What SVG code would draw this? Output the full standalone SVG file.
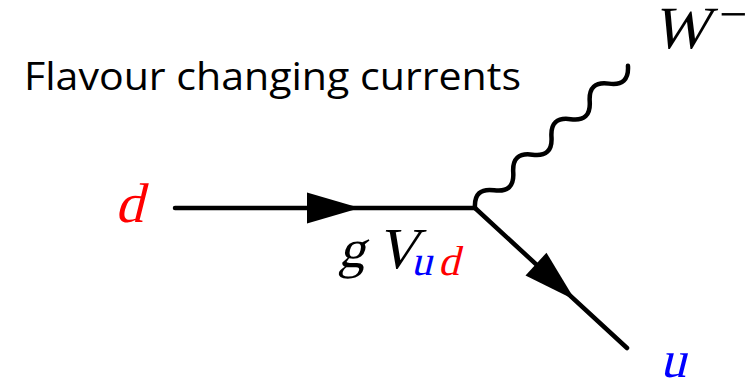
<svg xmlns="http://www.w3.org/2000/svg" xmlns:xlink="http://www.w3.org/1999/xlink" width="749" height="384" viewBox="0 0 749 384">
<style>
.line{stroke:#000;stroke-width:4.5;fill:none;stroke-linecap:round;stroke-linejoin:round}
.title{font-family:"Open Sans","Liberation Sans",sans-serif;font-size:39px;fill:#000}
.math{font-family:"Liberation Serif","Times New Roman",serif;font-style:normal}
.red{fill:#ff0000}
.blue{fill:#0000ff}
</style>
<defs>
<polygon id="arrowhead" points="0,0 -53,-15.5 -53,15.5" fill="#000"/>
</defs>
<rect width="749" height="384" fill="#fff"/>
<g id="title">
<text class="title" x="24" y="90" textLength="497" lengthAdjust="spacingAndGlyphs">Flavour changing currents</text>
</g>
<g id="connectors">
<g id="fermion-in">
<line class="line" x1="175" y1="208" x2="475" y2="208"/>
<use xlink:href="#arrowhead" transform="translate(360,208)"/>
</g>
<g id="fermion-out">
<line class="line" x1="475" y1="208" x2="627" y2="348"/>
<use xlink:href="#arrowhead" transform="translate(575,300) rotate(42.6)"/>
</g>
<g id="boson">
<path class="line" transform="translate(475,208) rotate(-42.9)" d="M0,0 c8.7,-10.7 17.4,-10.7 26.1,0 c8.7,10.7 17.4,10.7 26.1,0 c8.7,-10.7 17.4,-10.7 26.1,0 c8.7,10.7 17.4,10.7 26.1,0 c8.7,-10.7 17.4,-10.7 26.1,0 c8.7,10.7 17.4,10.7 26.1,0 c8.7,-10.7 17.4,-10.7 26.1,0 c8.7,10.7 17.4,10.7 26.1,0"/>
</g>
</g>
<g id="label-d">
<text class="math red" font-size="56" transform="translate(115,222) skewX(-14)">d</text>
</g>
<g id="vertex-coupling">
<text class="math" font-size="54" transform="translate(338,267) skewX(-14)">g</text>
<text class="math" font-size="58" transform="translate(376,268) skewX(-14)">V</text>
<text class="math blue" font-size="42" transform="translate(411,275) skewX(-14)">u</text>
<text class="math red" font-size="42" transform="translate(438,275) skewX(-14)">d</text>
</g>
<g id="label-W">
<text class="math" font-size="60" transform="translate(652,48) skewX(-14)">W</text>
<text class="math" font-size="50" x="719" y="31">−</text>
</g>
<g id="label-u">
<text class="math blue" font-size="52" transform="translate(660,377) skewX(-14)">u</text>
</g>
</svg>
